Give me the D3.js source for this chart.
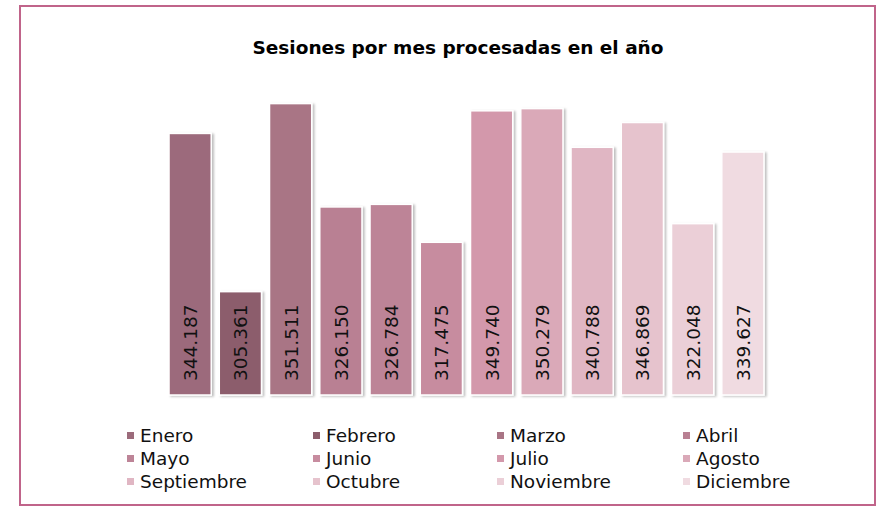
<!DOCTYPE html>
<html>
<head>
<meta charset="utf-8">
<script src="https://cdn.jsdelivr.net/npm/d3@7"></script>
<style>
  body { margin: 0; background: #fff; }
  svg text { font-family: "DejaVu Sans", Verdana, sans-serif; }
</style>
</head>
<body>
<script>
// Chart data
const months = ["Enero", "Febrero", "Marzo", "Abril", "Mayo", "Junio", "Julio", "Agosto",
                "Septiembre", "Octubre", "Noviembre", "Diciembre"];
const sessions = [344187, 305361, 351511, 326150, 326784, 317475, 349740, 350279,
                  340788, 346869, 322048, 339627];
const labels = ["344.187", "305.361", "351.511", "326.150", "326.784", "317.475", "349.740",
                "350.279", "340.788", "346.869", "322.048", "339.627"];
const colors = ["#9c6b7b", "#8c5d6c", "#a97585", "#b98093", "#bd8497", "#c78c9f",
                "#d398ab", "#daa9b8", "#e0b6c3", "#e6c3cd", "#ebcfd7", "#f0dbe1"];

const width = 881;
const height = 508;
const svg = d3.select("body").append("svg").attr("width", width).attr("height", height);

// shadow behind the bars
const defs = svg.append("defs");
const f = defs.append("filter").attr("id", "shadow").attr("x", "-20%").attr("y", "-20%")
  .attr("width", "140%").attr("height", "140%");
f.append("feDropShadow").attr("dx", 2).attr("dy", 1).attr("stdDeviation", 1.2)
  .attr("flood-color", "#000").attr("flood-opacity", 0.25);

// frame
svg.append("rect")
  .attr("x", 20).attr("y", 6)
  .attr("width", 855).attr("height", 499)
  .attr("fill", "none")
  .attr("stroke", "#c0648a")
  .attr("stroke-width", 2);

// title
svg.append("text")
  .attr("x", 458).attr("y", 54)
  .attr("text-anchor", "middle")
  .attr("font-size", 18.5)
  .attr("font-weight", "bold")
  .text("Sesiones por mes procesadas en el año");

// scales
const xScale = d3.scaleBand().domain(months).range([165, 768]).paddingInner(0.16).paddingOuter(0.08);
const yScale = d3.scaleLinear().domain([280000, 360000]).range([395, 69]);

// bars
svg.append("g").selectAll("rect")
  .data(months)
  .enter()
  .append("rect")
  .attr("x", (d) => xScale(d))
  .attr("y", (d, i) => yScale(sessions[i]))
  .attr("width", xScale.bandwidth())
  .attr("height", (d, i) => yScale(280000) - yScale(sessions[i]))
  .attr("fill", (d, i) => colors[i])
  .attr("stroke", "#fff")
  .attr("stroke-width", 1.5)
  .attr("filter", "url(#shadow)");

// value labels, rotated inside bars
svg.append("g").selectAll("text")
  .data(months)
  .enter()
  .append("text")
  .attr("transform", (d) => "translate(" + (xScale(d) + xScale.bandwidth() / 2 + 7) + ",381) rotate(-90)")
  .attr("font-size", 18.5)
  .attr("fill", "#111")
  .text((d, i) => labels[i]);

// legend, 4 columns x 3 rows
const legendX = [127, 313, 497, 683];
const legendY = [442, 465, 488];
const legend = svg.append("g").attr("id", "legend");
months.forEach((m, i) => {
  const cx = legendX[i % 4];
  const cy = legendY[Math.floor(i / 4)];
  legend.append("rect")
    .attr("x", cx).attr("y", cy - 10)
    .attr("width", 7).attr("height", 7)
    .attr("fill", colors[i]);
  legend.append("text")
    .attr("x", cx + 13).attr("y", cy)
    .attr("font-size", 18.5)
    .attr("fill", "#111")
    .text(m);
});
</script>
</body>
</html>
